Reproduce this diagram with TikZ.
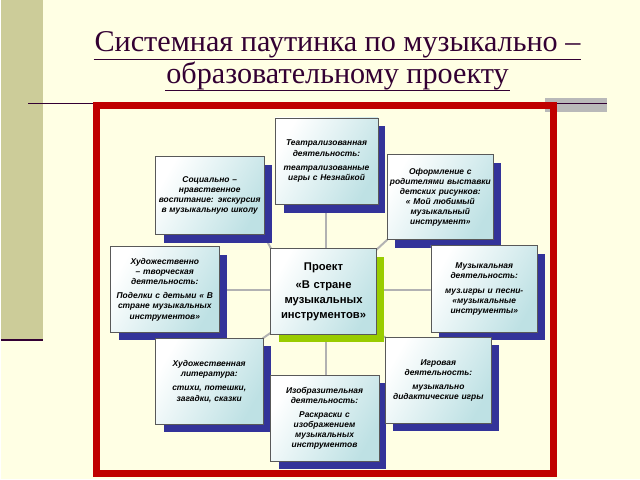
\documentclass[tikz,border=0pt]{standalone}
\usepackage{fontspec}
\setmainfont{Liberation Serif}
\setsansfont{Liberation Sans}
\usetikzlibrary{shadings}
\definecolor{bgyel}{RGB}{255,255,228}
\definecolor{olive}{RGB}{204,204,153}
\definecolor{plum}{RGB}{51,0,51}
\definecolor{frame}{RGB}{192,0,0}
\definecolor{shblue}{RGB}{51,51,153}
\definecolor{shgreen}{RGB}{153,204,0}
\definecolor{cyanish}{RGB}{190,225,228}
\tikzset{
  card/.style={draw=gray!70!black, line width=0.4pt, left color=white, right color=cyanish,
    shading angle=60, minimum width=2.65cm, text width=2.5cm, align=center, inner sep=1pt,
    font=\sffamily\bfseries\itshape\fontsize{6}{7.2}\selectfont},
  link/.style={gray!60, line width=1.4pt},
  heading/.style={plum, font=\fontsize{21.5}{24}\selectfont, inner sep=0.5pt}
}
\newcommand{\card}[6]{% name, x1, y1, x2, y2, text
  \fill[shblue] (#2+8,#3+8) rectangle (#4+8,#5+8);
  \node[card, minimum width={(#4-#2)*0.025cm}, minimum height={(#5-#3)*0.025cm},
        text width={(#4-#2-2)*0.025cm}] (#1) at ({(#2+#4)/2},{(#3+#5)/2}) {#6};}
\begin{document}
\begin{tikzpicture}[x=0.025cm, y=-0.025cm]
\fill[bgyel] (0,0) rectangle (640,480);
\fill[olive] (0,0) rectangle (42,341);
\draw[plum, line width=1.5pt] (0,341) -- (42,341);
\fill[gray!55] (545,98) rectangle (607,112);
\draw[plum, line width=0.8pt] (27,104) -- (607,104);
\node[heading] (title1) at (337,45) {Системная паутинка по музыкально –};
\node[heading] (title2) at (337,76) {образовательному проекту};
\draw[plum, line width=0.6pt] (title1.south west) -- (title1.south east);
\draw[plum, line width=0.6pt] (title2.south west) -- (title2.south east);
\draw[frame, line width=5pt] (96,106) rectangle (553,474);
% connectors
\draw[link] (325,205) -- (325,376);
\draw[link] (218,290) -- (431,290);
\draw[link] (263,235) -- (272,252);
\draw[link] (387,240) -- (374,252);
\draw[link] (262,339) -- (272,332);
\draw[link] (385,338) -- (374,332);
% cards
\card{theatre}{275}{118}{377}{205}{Театрализованная деятельность:\\[3pt] театрализованные игры с Незнайкой}
\card{social}{155}{157}{263}{235}{Социально – нравственное воспитание: экскурсия в музыкальную школу}
\card{parents}{387}{155}{493}{240}{Оформление с родителями выставки детских рисунков: « Мой любимый музыкальный инструмент»}
\card{craft}{110}{247}{218}{333}{Художественно – творческая деятельность:\\[3pt] Поделки с детьми « В стране музыкальных инструментов»}
\card{music}{431}{246}{537}{333}{Музыкальная деятельность:\\[3pt] муз.игры и песни-«музыкальные инструменты»}
\card{reading}{155}{339}{262}{425}{Художественная литература:\\[3pt] стихи, потешки, загадки, сказки}
\card{drawing}{270}{376}{378}{462}{Изобразительная деятельность:\\[3pt] Раскраски с изображением музыкальных инструментов}
\card{play}{385}{338}{491}{424}{Игровая деятельность:\\[3pt] музыкально дидактические игры}
% centre
\fill[shgreen] (278,257) rectangle (384,343);
\node[card, minimum width=2.65cm, minimum height=2.15cm, text width=2.5cm,
      font=\sffamily\bfseries\fontsize{8}{10.5}\selectfont] (project) at (323,292)
  {Проект\\[3pt] «В стране музыкальных инструментов»};
\end{tikzpicture}
\end{document}
